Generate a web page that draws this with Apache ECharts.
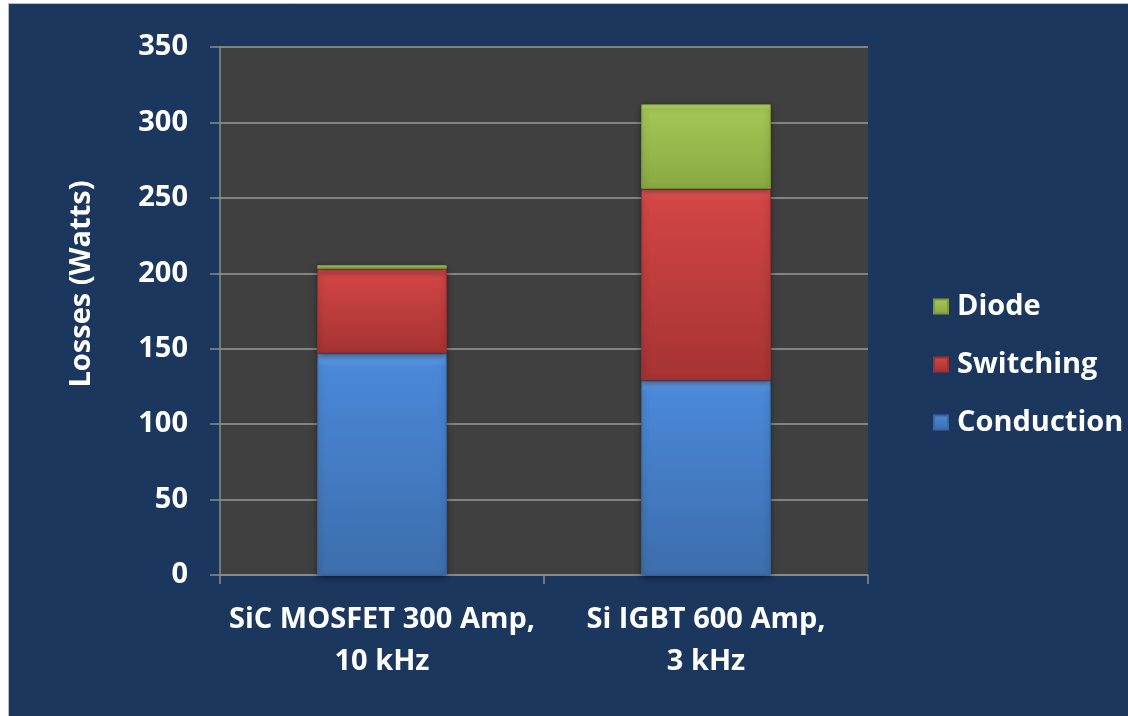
<!DOCTYPE html>
<html>
<head>
<meta charset="utf-8">
<style>
  html, body { margin: 0; padding: 0; background: #ffffff; }
  #chart { width: 1128px; height: 716px; }
</style>
<script src="https://cdn.jsdelivr.net/npm/echarts@6/dist/echarts.min.js"></script>
</head>
<body>
<div id="chart"></div>
<script>
// Power device loss breakdown (W)
const categories = ['SiC MOSFET 300 Amp,\n10 kHz', 'Si IGBT 600 Amp,\n3 kHz'];
const conduction = [147, 129];
const switching = [56, 127];
const diode = [2.5, 56];
const yTicks = { min: 0, max: 350, interval: 50 };
const yTitle = 'Losses (Watts)';

const FONT = '"Open Sans", Lato, sans-serif';

function grad(top, mid, bottom) {
  return new echarts.graphic.LinearGradient(0, 0, 0, 1, [
    { offset: 0, color: top },
    { offset: 0.06, color: mid },
    { offset: 0.94, color: bottom },
    { offset: 1, color: bottom }
  ]);
}

const barStyle = (top, mid, bottom, border) => ({
  color: grad(top, mid, bottom),
  borderColor: border,
  borderWidth: 1,
  shadowColor: 'rgba(0,0,0,0.45)',
  shadowBlur: 6,
  shadowOffsetY: 2
});

const chart = echarts.init(document.getElementById('chart'), null, { renderer: 'canvas' });

chart.setOption({
  backgroundColor: '#ffffff',
  animation: false,
  graphic: [
    {
      type: 'rect',
      z: -10,
      shape: { x: 8.5, y: 3.5, width: 1125, height: 720 },
      style: { fill: '#1b375e', stroke: '#b9bec6', lineWidth: 1 }
    },
    {
      type: 'text',
      x: 82, y: 284,
      rotation: Math.PI / 2,
      style: {
        text: yTitle, fill: '#ffffff', fontSize: 29, fontWeight: 'bold', fontFamily: FONT,
        align: 'center', verticalAlign: 'middle'
      }
    }
  ],
  grid: {
    left: 220, right: 260, top: 47, bottom: 141,
    show: true, backgroundColor: '#404040', borderWidth: 0
  },
  legend: {
    orient: 'vertical',
    left: 928, top: 282,
    itemWidth: 14, itemHeight: 14,
    itemGap: 19,
    icon: 'rect',
    data: ['Diode', 'Switching', 'Conduction'],
    textStyle: { color: '#ffffff', fontSize: 29, fontWeight: 'bold', fontFamily: FONT, lineHeight: 39, padding: [0, 0, 0, 4] }
  },
  xAxis: {
    type: 'category',
    data: categories,
    axisLine: { show: true, lineStyle: { color: '#8c8c8c', width: 1.5 } },
    axisTick: { show: true, length: 9, lineStyle: { color: '#8c8c8c', width: 1.5 } },
    axisLabel: {
      color: '#ffffff', fontSize: 29, fontWeight: 'bold', fontFamily: FONT,
      lineHeight: 42, margin: 24, interval: 0
    }
  },
  yAxis: {
    type: 'value',
    min: yTicks.min, max: yTicks.max, interval: yTicks.interval,
    axisLine: { show: true, lineStyle: { color: '#8c8c8c', width: 1.5 } },
    axisTick: { show: true, length: 10, lineStyle: { color: '#8c8c8c', width: 1.5 } },
    axisLabel: { color: '#ffffff', fontSize: 29, fontWeight: 'bold', fontFamily: FONT, margin: 32 },
    splitLine: { show: true, lineStyle: { color: '#9a9a9a', width: 1.5 } }
  },
  series: [
    {
      name: 'Conduction', type: 'bar', stack: 'loss', barWidth: '40%',
      data: conduction,
      itemStyle: barStyle('#6aa6ee', '#4a88d8', '#3e6fae', '#3a67a3')
    },
    {
      name: 'Switching', type: 'bar', stack: 'loss',
      data: switching,
      itemStyle: barStyle('#e86060', '#d24545', '#a83434', '#9c3030')
    },
    {
      name: 'Diode', type: 'bar', stack: 'loss',
      data: diode,
      itemStyle: barStyle('#bcdc70', '#a3c655', '#8aab43', '#7f9c3c')
    }
  ]
});
</script>
</body>
</html>
